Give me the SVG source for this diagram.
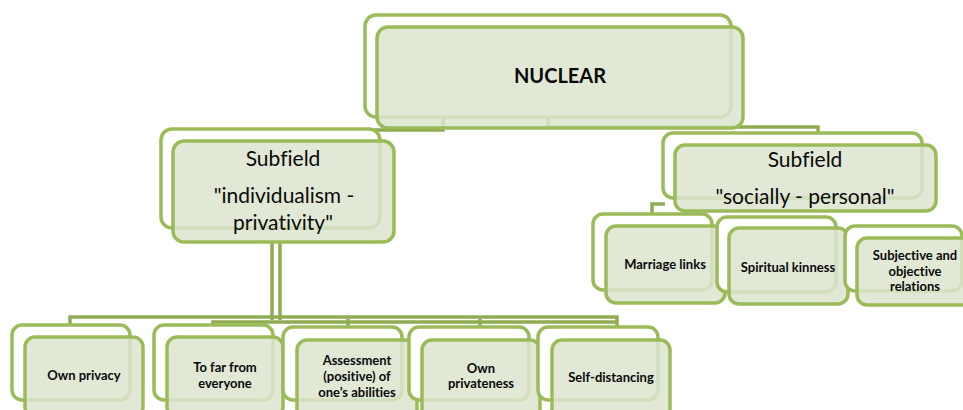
<svg xmlns="http://www.w3.org/2000/svg" width="963" height="410" viewBox="0 0 963 410">
<style>
.back{fill:#ffffff;stroke:#9bbb59;stroke-width:3.5}
.front{fill:#dce4ce;fill-opacity:0.85;stroke:#9bbb59;stroke-width:3.5}
.conn{fill:none;stroke:#8fac52;stroke-width:3.5}
.t{font-family:Lato,"Open Sans","Liberation Sans",sans-serif;fill:#0a0a0a;text-anchor:middle;font-variant-ligatures:none;font-feature-settings:"liga" 0}
.b13{font-size:13px;font-weight:bold}
.r21{font-size:21px}
</style>
<rect width="963" height="410" fill="#ffffff"/>
<g id="connectors">
  <path class="conn" d="M443,70 V130 H270"/>
  <path class="conn" d="M548,70 V127 H818 V135"/>
  <path class="conn" d="M272,242 V320" stroke-width="5"/>
  <path class="conn" d="M280,242 V320" stroke-width="3"/>
  <path class="conn" d="M70,326 V317 H617 V326"/>
  <path class="conn" d="M213,326 V322 H617"/>
  <path class="conn" d="M348,327 V319"/>
  <path class="conn" d="M480,327 V319"/>
  <path class="conn" d="M665,204 H652 V217" stroke-width="5"/>
</g>
<g id="node-nuclear">
  <rect class="back" x="365" y="15" width="366" height="102" rx="11"/>
  <rect class="front" x="377" y="27" width="366" height="101" rx="11"/>
  <text class="t" x="560" y="83" font-size="20" font-weight="bold">NUCLEAR</text>
</g>
<g id="node-subfield-left">
  <rect class="back" x="161" y="129" width="219" height="99" rx="11"/>
  <rect class="front" x="173" y="141" width="221" height="101" rx="11"/>
  <text class="t r21" x="283" y="166">Subfield</text>
  <text class="t r21" x="284" y="203">"individualism -</text>
  <text class="t r21" x="283" y="230">privativity"</text>
</g>
<g id="node-subfield-right">
  <rect class="back" x="663" y="133" width="259" height="65" rx="10"/>
  <rect class="front" x="675" y="145" width="261" height="66" rx="10"/>
  <text class="t r21" x="805" y="167">Subfield</text>
  <text class="t r21" x="805" y="204">"socially - personal"</text>
</g>
<g id="node-marriage">
  <rect class="back" x="593" y="214" width="119" height="76" rx="10"/>
  <rect class="front" x="606" y="226" width="119" height="77" rx="10"/>
  <text class="t b13" x="665" y="269">Marriage links</text>
</g>
<g id="node-spiritual">
  <rect class="back" x="717" y="217" width="119" height="75" rx="10"/>
  <rect class="front" x="729" y="228" width="119" height="76" rx="10"/>
  <text class="t b13" x="788" y="272">Spiritual kinness</text>
</g>
<g id="node-subjective">
  <rect class="back" x="845" y="226" width="117" height="65" rx="10"/>
  <rect class="front" x="857" y="238" width="120" height="67" rx="10"/>
  <text class="t b13" x="915" y="260">Subjective and</text>
  <text class="t b13" x="915" y="276">objective</text>
  <text class="t b13" x="915" y="291">relations</text>
</g>
<g id="node-own-privacy">
  <rect class="back" x="12" y="325" width="118" height="75" rx="10"/>
  <rect class="front" x="25" y="337" width="118" height="80" rx="10"/>
  <text class="t b13" x="84" y="380">Own privacy</text>
</g>
<g id="node-to-far">
  <rect class="back" x="154" y="325" width="119" height="75" rx="10"/>
  <rect class="front" x="167" y="337" width="116" height="80" rx="10"/>
  <text class="t b13" x="225" y="372">To far from</text>
  <text class="t b13" x="225" y="388">everyone</text>
</g>
<g id="node-assessment">
  <rect class="back" x="283" y="327" width="119" height="73" rx="10"/>
  <rect class="front" x="297" y="340" width="120" height="80" rx="10"/>
  <text class="t b13" x="357" y="365">Assessment</text>
  <text class="t b13" x="357" y="381">(positive) of</text>
  <text class="t b13" x="357" y="397">one’s abilities</text>
</g>
<g id="node-own-privateness">
  <rect class="back" x="409" y="327" width="120" height="73" rx="10"/>
  <rect class="front" x="422" y="340" width="118" height="80" rx="10"/>
  <text class="t b13" x="481" y="373">Own</text>
  <text class="t b13" x="481" y="388">privateness</text>
</g>
<g id="node-self-distancing">
  <rect class="back" x="538" y="327" width="120" height="73" rx="10"/>
  <rect class="front" x="552" y="340" width="118" height="80" rx="10"/>
  <text class="t b13" x="611" y="382">Self-distancing</text>
</g>
</svg>
